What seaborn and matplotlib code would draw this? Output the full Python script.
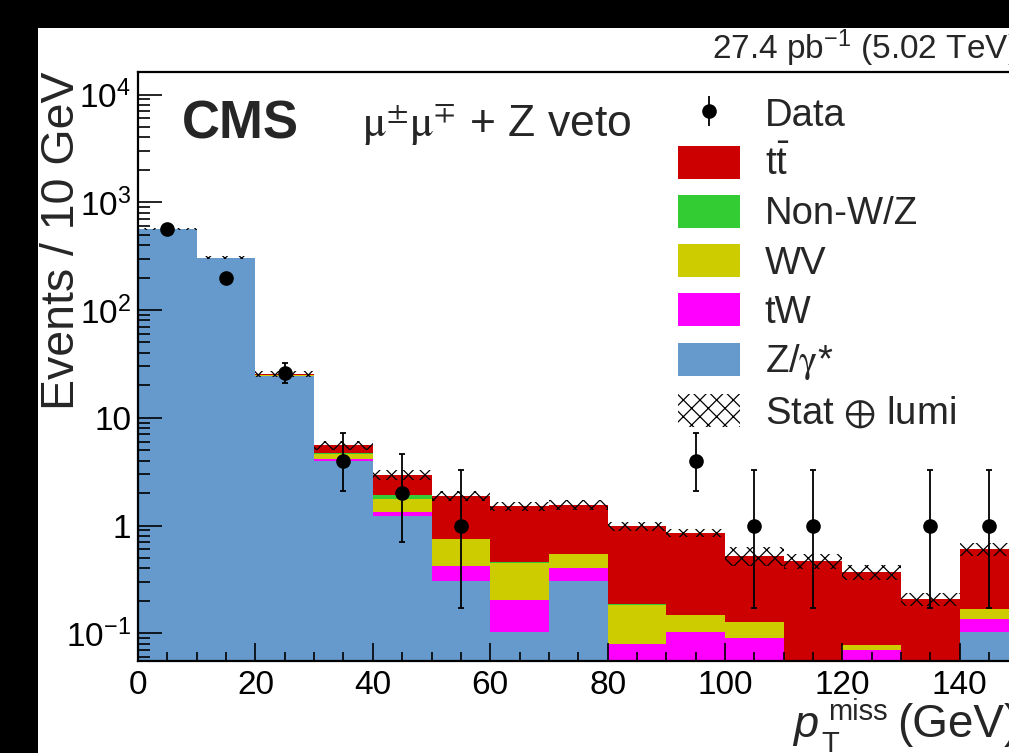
import math
import numpy as np
import pandas as pd
import matplotlib
matplotlib.use("Agg")
import matplotlib.pyplot as plt
import matplotlib.transforms as mtransforms
from matplotlib.patches import Patch, Rectangle
from matplotlib.lines import Line2D
from matplotlib.ticker import FixedLocator, FixedFormatter, LogLocator, NullFormatter, MultipleLocator
import seaborn as sns

# ---- binning (GeV) ----
bin_edges = np.arange(0, 160, 10)
bin_centers = 0.5 * (bin_edges[:-1] + bin_edges[1:])

# ---- expected yields per 10 GeV bin ----
zgamma = [566.0, 304.0, 24.2, 3.99, 1.23, 0.307, 0.103, 0.307, 0.0, 0.0, 0.0, 0.0, 0.0, 0.0, 0.103]
tw     = [0.4, 0.6, 0.4, 0.15, 0.11, 0.118, 0.101, 0.095, 0.080, 0.102, 0.091, 0.02, 0.070, 0.02, 0.033]
wv     = [0.6, 0.8, 0.4, 0.46, 0.43, 0.327, 0.249, 0.144, 0.104, 0.046, 0.036, 0.01, 0.0077, 0.0, 0.033]
nonwz  = [0.3, 0.2, 0.15, 0.09, 0.16, 0.0, 0.01, 0.0, 0.003, 0.0, 0.0, 0.0, 0.0, 0.0, 0.0]
ttbar  = [0.5, 1.0, 0.4, 0.88, 1.03, 1.148, 1.057, 1.004, 0.795, 0.713, 0.398, 0.437, 0.296, 0.189, 0.435]

# stat (+) lumi uncertainty on the total expectation
unc_total = [15.0, 10.0, 1.7, 0.54, 0.33, 0.21, 0.15, 0.17, 0.095, 0.077, 0.107, 0.074, 0.059, 0.030, 0.080]

# ---- observed events ----
data_counts = [566, 198, 26, 4, 2, 1, 0, 0, 0, 4, 1, 1, 0, 1, 1]

# ---- labels / colours ----
proc_labels = ["t$\\bar{\\mathrm{t}}$", "Non-W/Z", "WV", "tW", "Z/$\\mathrm{\\gamma}$*"]
proc_colors = ["#cc0000", "#33cc33", "#cccc00", "#ff00ff", "#6699cc"]
y_tick_vals = [0.1, 1, 10, 100, 1000, 10000]
y_tick_text = ["$10^{-1}$", "1", "10", "$10^{2}$", "$10^{3}$", "$10^{4}$"]


def garwood(n, cl=0.6827):
    """Central Poisson interval for n observed events."""
    a = 0.5 * (1.0 - cl)

    def cdf(k, mu):
        if k < 0:
            return 0.0
        ks = np.arange(k + 1)
        logfact = np.concatenate([[0.0], np.cumsum(np.log(np.arange(1, k + 1)))])
        return float(np.exp(ks * math.log(mu) - mu - logfact).sum())

    if n == 0:
        lo = 0.0
    else:
        a_lo, b_lo = 1e-9, float(n)
        for _ in range(80):
            m = 0.5 * (a_lo + b_lo)
            if 1.0 - cdf(n - 1, m) < a:
                a_lo = m
            else:
                b_lo = m
        lo = 0.5 * (a_lo + b_lo)
    a_up, b_up = float(n) + 1e-9, n + 20 * math.sqrt(n + 1) + 20
    for _ in range(80):
        m = 0.5 * (a_up + b_up)
        if cdf(n, m) > a:
            a_up = m
        else:
            b_up = m
    up = 0.5 * (a_up + b_up)
    return n - lo, up - n


sns.set_theme(style="ticks")
plt.rcParams["font.family"] = ["Liberation Sans", "DejaVu Sans"]
plt.rcParams["mathtext.fontset"] = "custom"
plt.rcParams["mathtext.rm"] = "Liberation Sans"
plt.rcParams["mathtext.it"] = "Liberation Sans:italic"
plt.rcParams["mathtext.bf"] = "Liberation Sans:bold"
plt.rcParams["hatch.linewidth"] = 0.9

W, H = 1009, 753
fig = plt.figure(figsize=(W / 100, H / 100), dpi=100)
fig.patch.set_facecolor("white")
ax = fig.add_axes([0.1368, 0.1226, 0.8726, 0.7822])
ax.set_yscale("log")
ax.set_axisbelow(False)

# stacked expectation: draw running totals from the top layer down
layers = [ttbar, nonwz, wv, tw, zgamma]
stack_order = layers[::-1]  # bottom to top
cumulative = np.cumsum(np.array(stack_order), axis=0)[::-1]  # top-most total first
df = pd.DataFrame({"pt": bin_centers})
for i, (cum, col) in enumerate(zip(cumulative, proc_colors)):
    df["w"] = cum
    sns.histplot(data=df, x="pt", weights="w", binwidth=10,
                 binrange=(float(bin_edges[0]), float(bin_edges[-1])), element="step",
                 fill=True, color=col, alpha=1.0, linewidth=0, ax=ax)

total = cumulative[0]
unc = np.array(unc_total)
ax.bar(bin_centers, 2 * unc, bottom=total - unc, width=10, fill=False, hatch="xx",
       edgecolor="black", linewidth=0, zorder=3)

# observed data with Poisson intervals
dc = np.array(data_counts)
mask = dc > 0
errs = np.array([garwood(int(n)) for n in dc[mask]]).T
ax.errorbar(bin_centers[mask], dc[mask], yerr=errs, fmt="o", color="black", ms=9.5,
            elinewidth=1.3, capsize=2.2, capthick=1.3, zorder=5)

ax.set_xlim(0, 150)
ax.set_ylim(0.0557, 16300)
ax.set_xlabel("")
ax.set_ylabel("")

# axes styling
for s in ax.spines.values():
    s.set_linewidth(1.6)
    s.set_color("black")
    s.set_zorder(10)
ax.xaxis.set_major_locator(MultipleLocator(20))
ax.xaxis.set_minor_locator(MultipleLocator(5))
ax.yaxis.set_major_locator(FixedLocator(y_tick_vals))
ax.yaxis.set_major_formatter(FixedFormatter(y_tick_text))
ax.yaxis.set_minor_locator(LogLocator(base=10, subs=np.arange(2, 10)))
ax.yaxis.set_minor_formatter(NullFormatter())
ax.tick_params(axis="both", which="both", direction="in", width=1.2, colors="black",
               labelsize=24, top=False, right=False)
ax.tick_params(axis="y", which="major", length=17, pad=5)
ax.tick_params(axis="y", which="minor", length=8.6)
ax.tick_params(axis="x", which="major", length=13, pad=6.5)
ax.tick_params(axis="x", which="minor", length=6.5)
ax.set_facecolor("white")

ax.set_ylabel("Events / 10 GeV", fontsize=33.5, loc="top")
ax.yaxis.set_label_coords(-0.061, 1.0)


def fpos(px, py):
    """Pixel position (from the top-left corner) to figure fraction."""
    return px / W, (H - py) / H


# x-axis title, set piecewise so the super/subscripts sit like ROOT's TLatex
fig.text(*fpos(793, 736.7), "p", fontsize=32.5, style="italic", ha="left", va="baseline")
fig.text(*fpos(821, 751.5), "T", fontsize=21, ha="left", va="baseline")
fig.text(*fpos(828, 720), "miss", fontsize=21, ha="left", va="baseline")
fig.text(*fpos(897, 736.7), "(GeV)", fontsize=33, ha="left", va="baseline")

xt = mtransforms.blended_transform_factory(ax.transAxes, fig.transFigure)
ax.text(1.0, 0.9216, r"27.4 pb$^{-1}$ (5.02 TeV)", transform=xt,
        ha="right", va="baseline", fontsize=24)
fig.text(0.180, 0.8167, "CMS", fontsize=38, fontweight="bold", ha="left", va="baseline")
fig.text(0.3588, 0.8194, r"$\mathrm{\mu^{\pm}\mu^{\mp}}$ + Z veto", fontsize=32,
         ha="left", va="baseline", math_fontfamily="stix")

# legend
data_handle = (Line2D([], [], marker="|", ls="none", color="black", ms=22, mew=1.3),
               Line2D([], [], marker="o", ls="none", color="black", ms=9.5))
handles = [data_handle] + [Patch(facecolor=c, edgecolor="none") for c in proc_colors] + \
          [Patch(facecolor="none", edgecolor="black", hatch="xx", linewidth=0)]
labels = ["Data"] + proc_labels + [r"Stat $\oplus$ lumi"]
leg = ax.legend(handles, labels, loc="upper left", bbox_to_anchor=(0.613, 0.958),
                frameon=False, fontsize=27.5, handlelength=1.63, handleheight=0.96,
                handletextpad=0.65, labelspacing=0.30, borderpad=0, borderaxespad=0)
for t in leg.get_texts():
    if "gamma" in t.get_text() or "oplus" in t.get_text():
        t.set_math_fontfamily("stix")
leg.set_zorder(20)

# frame of the canvas
fig.patches.append(Rectangle((0, 0.9628), 1, 0.0372, transform=fig.transFigure,
                             facecolor="black", edgecolor="none", zorder=30))
fig.patches.append(Rectangle((0, 0), 0.0377, 1, transform=fig.transFigure,
                             facecolor="black", edgecolor="none", zorder=30))

fig.savefig("out.png", dpi=100)
